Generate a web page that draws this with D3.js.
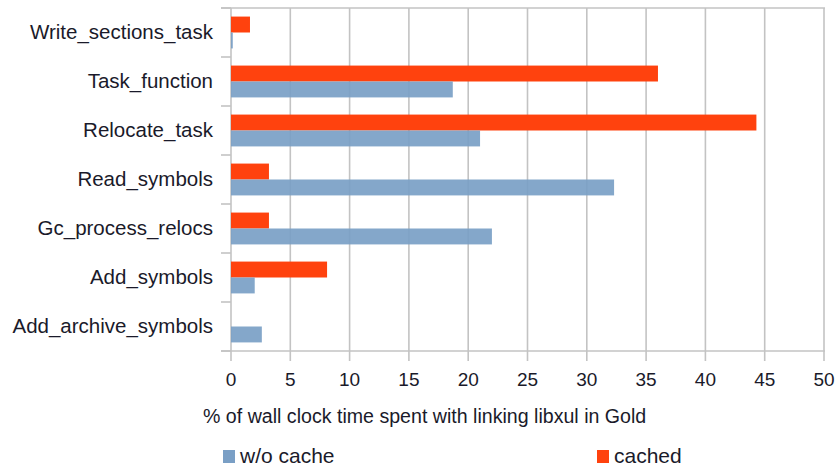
<!DOCTYPE html>
<html>
<head>
<meta charset="utf-8">
<script src="https://cdn.jsdelivr.net/npm/d3@7"></script>
<style>
  body { margin: 0; background: #fff; }
  text { font-family: "Liberation Sans", Arial, sans-serif; fill: #1a1a2a; }
</style>
</head>
<body>
<div id="chart"></div>
<script>
"use strict";
(function() {

const WIDTH = 837
const HEIGHT = 469
const margin = { top: 8, bottom: 118, left: 231, right: 13 }

const categories = ["Write_sections_task", "Task_function", "Relocate_task", "Read_symbols",
                    "Gc_process_relocs", "Add_symbols", "Add_archive_symbols"]
const cachedValues = [1.6, 36.0, 44.3, 3.2, 3.2, 8.1, 0]
const noCacheValues = [0.15, 18.7, 21.0, 32.3, 22.0, 2.0, 2.6]
const xTicks = [0, 5, 10, 15, 20, 25, 30, 35, 40, 45, 50]
const seriesNames = ["w/o cache", "cached"]

const BLUE = '#7a9fc5'
const ORANGE = '#ff420e'
const GRID = '#c3c3c3'

let svg = d3.select("#chart").append("svg")
    .attr("width", WIDTH)
    .attr("height", HEIGHT)

let x_scale = d3.scaleLinear().domain([0, 50]).range([margin.left, WIDTH - margin.right])
let y_scale = d3.scaleBand().domain(categories)
    .range([margin.top, HEIGHT - margin.bottom])
    .paddingInner(0.35).paddingOuter(0.175)
let sub = d3.scaleBand().domain(["cached", "nocache"]).range([0, y_scale.bandwidth()])

const top = y_scale.range()[0], bottom = y_scale.range()[1]
const step = y_scale.step()

// vertical gridlines + bottom ticks
svg.append("g")
    .selectAll("line").data(xTicks).join("line")
    .attr("x1", d => x_scale(d)).attr("x2", d => x_scale(d))
    .attr("y1", top).attr("y2", bottom + 10)
    .attr("stroke", GRID).attr("stroke-width", 1.6)

// top frame + axis line
svg.append("g")
    .selectAll("line").data([top, bottom]).join("line")
    .attr("x1", margin.left - 10).attr("x2", x_scale(50) + 1)
    .attr("y1", d => d).attr("y2", d => d)
    .attr("stroke", GRID).attr("stroke-width", 1.6)

// category boundary ticks
svg.append("g")
    .selectAll("line").data(d3.range(categories.length + 1)).join("line")
    .attr("x1", margin.left - 10).attr("x2", margin.left)
    .attr("y1", i => top + i * step).attr("y2", i => top + i * step)
    .attr("stroke", GRID).attr("stroke-width", 1.6)

// bars
let rows = categories.map((c, i) => ({ cat: c, cached: cachedValues[i], nocache: noCacheValues[i] }))

svg.append("g").selectAll("rect").data(rows).join("rect")
    .attr("x", x_scale(0))
    .attr("y", d => y_scale(d.cat) + sub("cached"))
    .attr("width", d => x_scale(d.cached) - x_scale(0))
    .attr("height", sub.bandwidth())
    .attr("fill", ORANGE)

svg.append("g").selectAll("rect").data(rows).join("rect")
    .attr("x", x_scale(0))
    .attr("y", d => y_scale(d.cat) + sub("nocache"))
    .attr("width", d => x_scale(d.nocache) - x_scale(0))
    .attr("height", sub.bandwidth())
    .attr("fill", BLUE)
    .attr("fill-opacity", 0.92)

// category labels
svg.append("g").selectAll("text").data(categories).join("text")
    .attr("x", margin.left - 18)
    .attr("y", d => y_scale(d) + y_scale.bandwidth() / 2 - 1)
    .attr("dy", "0.35em")
    .attr("text-anchor", "end")
    .attr("font-size", "20.5px")
    .text(d => d)

// x tick labels
svg.append("g").selectAll("text").data(xTicks).join("text")
    .attr("x", d => x_scale(d))
    .attr("y", bottom + 28)
    .attr("dy", "0.35em")
    .attr("text-anchor", "middle")
    .attr("font-size", "19px")
    .text(d => d)

// axis title
svg.append("text")
    .attr("x", 203)
    .attr("y", 423)
    .attr("font-size", "19.6px")
    .text("% of wall clock time spent with linking libxul in Gold")

// legend
let legendX = [223, 597]
let legendColors = [BLUE, ORANGE]
let legend = svg.append("g").selectAll("g").data(seriesNames).join("g")
    .attr("transform", (d, i) => `translate(${legendX[i]}, 450)`)
legend.append("rect")
    .attr("width", 12).attr("height", 13)
    .attr("fill", (d, i) => legendColors[i])
legend.append("text")
    .attr("x", 17).attr("y", 13)
    .attr("font-size", "21px")
    .text(d => d)

})();
</script>
</body>
</html>
